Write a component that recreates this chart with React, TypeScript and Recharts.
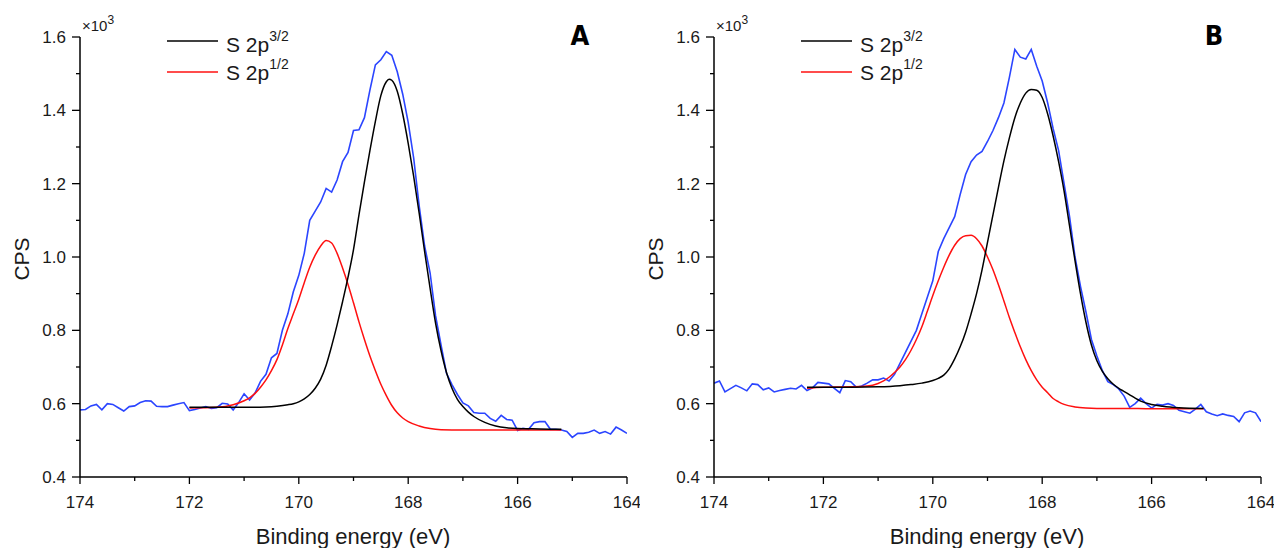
import React from 'react';
import { LineChart, Line, XAxis, YAxis } from 'recharts';

// measured survey, 174.0 -> 164.0 eV, 0.1 eV step
const energyStart = 174;
const energyStep = 0.1;

const surveyA = [
  0.583, 0.584, 0.594, 0.598, 0.583, 0.6, 0.598, 0.589, 0.58, 0.592,
  0.594, 0.603, 0.608, 0.607, 0.593, 0.592, 0.592, 0.596, 0.6, 0.603,
  0.581, 0.584, 0.588, 0.592, 0.587, 0.589, 0.601, 0.599, 0.583, 0.603,
  0.627, 0.61, 0.629, 0.661, 0.68, 0.725, 0.737, 0.8, 0.845, 0.905,
  0.95, 1.01, 1.1, 1.125, 1.15, 1.187, 1.177, 1.21, 1.26, 1.285,
  1.345, 1.347, 1.38, 1.455, 1.524, 1.538, 1.56, 1.55, 1.505, 1.444,
  1.367, 1.27, 1.14, 1.03, 0.957, 0.84, 0.76, 0.683, 0.652, 0.625,
  0.602, 0.594, 0.576, 0.574, 0.574, 0.56, 0.552, 0.568, 0.557, 0.555,
  0.527, 0.533, 0.53, 0.548, 0.551, 0.551, 0.53, 0.53, 0.528, 0.524,
  0.508, 0.519, 0.519, 0.522, 0.528, 0.519, 0.524, 0.517, 0.536, 0.528,
  0.519,
];

const surveyB = [
  0.656, 0.662, 0.632, 0.641, 0.65, 0.643, 0.635, 0.654, 0.652, 0.638,
  0.643, 0.632, 0.636, 0.639, 0.642, 0.64, 0.65, 0.636, 0.643, 0.658,
  0.656, 0.654, 0.642, 0.63, 0.663, 0.66, 0.645, 0.648, 0.656, 0.665,
  0.665, 0.67, 0.662, 0.68, 0.71, 0.74, 0.77, 0.8, 0.845, 0.89,
  0.935, 1.015, 1.05, 1.08, 1.11, 1.17, 1.225, 1.26, 1.278, 1.288,
  1.315, 1.345, 1.38, 1.42, 1.49, 1.566, 1.545, 1.54, 1.566, 1.52,
  1.48, 1.42, 1.35, 1.29, 1.2, 1.11, 1.0, 0.92, 0.85, 0.775,
  0.73, 0.69, 0.66, 0.652, 0.64, 0.62, 0.59, 0.6, 0.615, 0.6,
  0.588, 0.598, 0.596, 0.6, 0.595, 0.582, 0.578, 0.574, 0.585, 0.598,
  0.578, 0.572, 0.567, 0.572, 0.568, 0.565, 0.551, 0.575, 0.58, 0.575,
  0.551,
];

// fitted components (S 2p3/2 black, S 2p1/2 red)
const fitEnergyA32 = [
  172, 171.5, 171, 170.6, 170.4, 170.2, 170.1, 170, 169.9, 169.8, 169.7, 169.6, 169.5, 169.4, 169.3, 169.2, 169.1,
  169, 168.9, 168.8, 168.7, 168.6, 168.5, 168.4, 168.35, 168.3, 168.2, 168.1, 168, 167.9, 167.8, 167.7, 167.6,
  167.5, 167.4, 167.3, 167.2, 167.1, 167, 166.9, 166.8, 166.6, 166.4, 166.2, 166, 165.6, 165.2,
];
const fitA32 = [
  0.59, 0.59, 0.59, 0.591, 0.593, 0.597, 0.6, 0.605, 0.613, 0.625, 0.642, 0.667, 0.705, 0.757, 0.815, 0.878, 0.945,
  1.02, 1.115, 1.205, 1.29, 1.37, 1.44, 1.478, 1.485, 1.482, 1.452, 1.39, 1.31, 1.22, 1.12, 1.015, 0.915,
  0.82, 0.745, 0.685, 0.642, 0.612, 0.592, 0.577, 0.565, 0.549, 0.539, 0.534, 0.532, 0.531, 0.53,
];
const fitEnergyA12 = [
  172, 171.5, 171.2, 171, 170.9, 170.8, 170.7, 170.6, 170.5, 170.4, 170.3, 170.2, 170.1, 170, 169.9, 169.8, 169.7,
  169.6, 169.5, 169.4, 169.3, 169.2, 169.1, 169, 168.9, 168.8, 168.7, 168.6, 168.5, 168.4, 168.3, 168.2, 168.1,
  168, 167.8, 167.6, 167.4, 167, 166, 165.2,
];
const fitA12 = [
  0.588, 0.59, 0.597, 0.608, 0.616, 0.628, 0.645, 0.665, 0.69, 0.72, 0.76, 0.805, 0.845, 0.885, 0.93, 0.972, 1.005,
  1.03, 1.045, 1.038, 1.01, 0.97, 0.925, 0.875, 0.823, 0.775, 0.73, 0.69, 0.653, 0.622, 0.595, 0.575, 0.561,
  0.551, 0.539, 0.532, 0.529, 0.528, 0.528, 0.528,
];

const fitEnergyB32 = [
  172.3, 171.5, 171, 170.6, 170.4, 170.2, 170, 169.9, 169.8, 169.7, 169.6, 169.5, 169.4, 169.3, 169.2, 169.1, 169,
  168.9, 168.8, 168.7, 168.6, 168.5, 168.4, 168.3, 168.2, 168.1, 168, 167.9, 167.8, 167.7, 167.6, 167.5, 167.4,
  167.3, 167.2, 167.1, 167, 166.9, 166.8, 166.7, 166.6, 166.5, 166.4, 166.3, 166.2, 166, 165.8, 165.5, 165.05,
];
const fitB32 = [
  0.645, 0.645, 0.646, 0.649, 0.652, 0.656, 0.663, 0.669, 0.678, 0.695, 0.722, 0.755, 0.795, 0.845, 0.9, 0.965, 1.04,
  1.115, 1.19, 1.262, 1.325, 1.38, 1.42, 1.447, 1.457, 1.455, 1.435, 1.39, 1.33, 1.26, 1.18, 1.085, 0.99,
  0.9, 0.822, 0.76, 0.717, 0.688, 0.668, 0.653, 0.642, 0.633, 0.624, 0.615, 0.607, 0.598, 0.593, 0.589, 0.587,
];
const fitEnergyB12 = [
  172.3, 172, 171.5, 171.2, 171, 170.9, 170.8, 170.7, 170.6, 170.5, 170.4, 170.3, 170.2, 170.1, 170, 169.9, 169.8,
  169.7, 169.6, 169.5, 169.4, 169.3, 169.2, 169.1, 169, 168.9, 168.8, 168.7, 168.6, 168.5, 168.4, 168.3, 168.2,
  168.1, 168, 167.9, 167.8, 167.7, 167.6, 167.4, 167.2, 167, 166.5, 166, 165.05,
];
const fitB12 = [
  0.642, 0.645, 0.646, 0.648, 0.655, 0.662, 0.672, 0.685, 0.7, 0.72, 0.745, 0.775, 0.81, 0.852, 0.895, 0.935, 0.972,
  1.005, 1.032, 1.05, 1.058, 1.059, 1.05, 1.03, 1.0, 0.965, 0.924, 0.88, 0.835, 0.794, 0.755, 0.72, 0.69,
  0.665, 0.645, 0.63, 0.614, 0.605, 0.598, 0.591, 0.588, 0.587, 0.587, 0.586, 0.586,
];

const xTicks = [174, 173, 172, 171, 170, 169, 168, 167, 166, 165, 164];
const yTicks = [0.4, 0.5, 0.6, 0.7, 0.8, 0.9, 1.0, 1.1, 1.2, 1.3, 1.4, 1.5, 1.6];

const FONT = '"Liberation Sans", Arial, sans-serif';
const TEXT = '#1a1a1a';

const toSurvey = (vals: number[]) =>
  vals.map((v, i) => ({ e: Math.round((energyStart - i * energyStep) * 10) / 10, v }));
const toFit = (es: number[], vals: number[]) => es.map((e, i) => ({ e, v: vals[i] }));

const XTick = (props: any) => {
  const { x, y, payload } = props;
  const major = Math.round(payload.value) % 2 === 0;
  return (
    <g>
      <line x1={x} x2={x} y1={y} y2={y + (major ? 7 : 4)} stroke="#000" strokeWidth={1.3} />
      {major && (
        <text x={x} y={y + 31} textAnchor="middle" fontSize={17} fontFamily={FONT} fill={TEXT}>
          {payload.value}
        </text>
      )}
    </g>
  );
};

const YTick = (props: any) => {
  const { x, y, payload } = props;
  const major = Math.round(payload.value * 10) % 2 === 0;
  return (
    <g>
      <line x1={x} x2={x - (major ? 8 : 4)} y1={y} y2={y} stroke="#000" strokeWidth={1.3} />
      {major && (
        <text x={x - 14} y={y + 6} textAnchor="end" fontSize={17} fontFamily={FONT} fill={TEXT}>
          {payload.value.toFixed(1)}
        </text>
      )}
    </g>
  );
};

function Panel({ left, letter, survey, e32, f32, e12, f12 }: any) {
  return (
    <div style={{ position: 'absolute', left, top: 0, width: 640, height: 548 }}>
      <LineChart width={640} height={548} data={toSurvey(survey)} margin={{ top: 37, right: 13, bottom: 0, left: 0 }}>
        <XAxis
          dataKey="e"
          type="number"
          domain={[164, 174]}
          reversed
          ticks={xTicks}
          interval={0}
          height={71}
          tickSize={0}
          tickMargin={0}
          tickLine={false}
          tick={<XTick />}
          axisLine={{ stroke: '#000', strokeWidth: 1.5 }}
          allowDataOverflow
        />
        <YAxis
          type="number"
          domain={[0.4, 1.6]}
          ticks={yTicks}
          interval={0}
          width={80}
          tickSize={0}
          tickMargin={0}
          tickLine={false}
          tick={<YTick />}
          axisLine={{ stroke: '#000', strokeWidth: 1.5 }}
          allowDataOverflow
        />
        <Line data={toSurvey(survey)} dataKey="v" type="linear" stroke="#2b45ff" strokeWidth={1.6} dot={false} isAnimationActive={false} />
        <Line data={toFit(e12, f12)} dataKey="v" type="monotone" stroke="#ff1010" strokeWidth={1.5} dot={false} isAnimationActive={false} />
        <Line data={toFit(e32, f32)} dataKey="v" type="monotone" stroke="#000" strokeWidth={1.5} dot={false} isAnimationActive={false} />
      </LineChart>
      <svg width={640} height={548} style={{ position: 'absolute', left: 0, top: 0, pointerEvents: 'none' }}>
        <text x={82} y={31} fontSize={15} fontFamily={FONT} fill={TEXT}>
          ×10<tspan dy={-7} fontSize={12}>3</tspan>
        </text>
        <line x1={167} x2={218} y1={41} y2={41} stroke="#000" strokeWidth={1.5} />
        <text x={226} y={52} fontSize={21} fontFamily={FONT} fill={TEXT}>
          S 2p<tspan dy={-11} fontSize={14}>3/2</tspan>
        </text>
        <line x1={167} x2={218} y1={72} y2={72} stroke="#ff1010" strokeWidth={1.5} />
        <text x={226} y={80} fontSize={21} fontFamily={FONT} fill={TEXT}>
          S 2p<tspan dy={-11} fontSize={14}>1/2</tspan>
        </text>
        <text x={580} y={45} textAnchor="middle" fontSize={27} fontWeight="bold" fontFamily='"DejaVu Sans Condensed", "DejaVu Sans", sans-serif' fill="#000">
          {letter}
        </text>
        <text transform="translate(29,259) rotate(-90)" textAnchor="middle" fontSize={21} fontFamily={FONT} fill={TEXT}>
          CPS
        </text>
        <text x={353} y={544} textAnchor="middle" fontSize={22} fontFamily={FONT} fill={TEXT}>
          Binding energy (eV)
        </text>
      </svg>
    </div>
  );
}

export default function App() {
  return (
    <div style={{ position: 'absolute', left: 0, top: 0, width: 1279, height: 548, background: '#fff' }}>
      <Panel left={0} letter="A" survey={surveyA} e32={fitEnergyA32} f32={fitA32} e12={fitEnergyA12} f12={fitA12} />
      <Panel left={634} letter="B" survey={surveyB} e32={fitEnergyB32} f32={fitB32} e12={fitEnergyB12} f12={fitB12} />
    </div>
  );
}
